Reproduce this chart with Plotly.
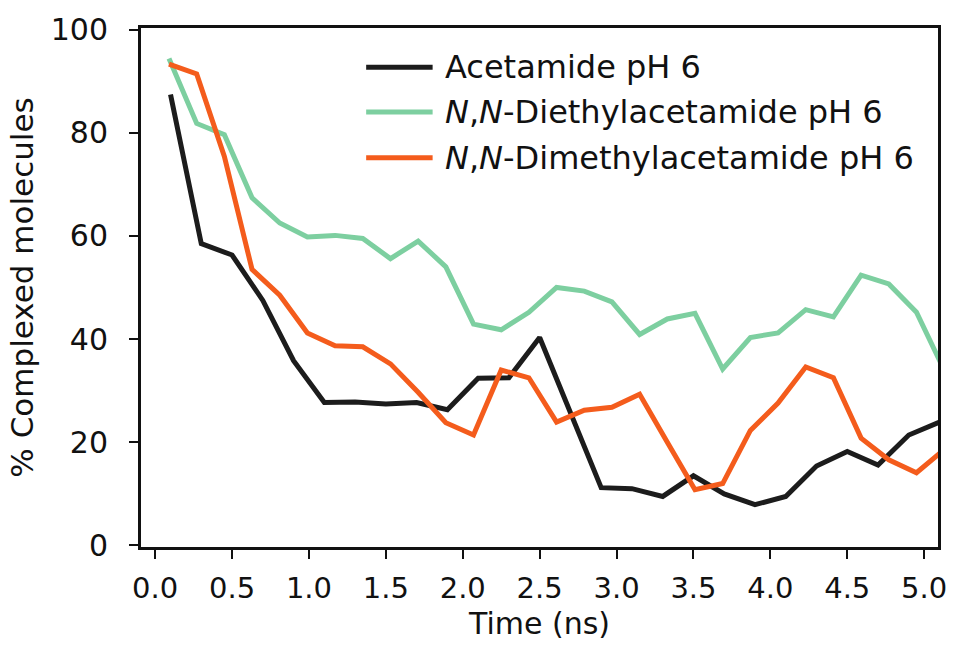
import plotly.graph_objects as go

# ---- data ----
time_acetamide = [0.1, 0.3, 0.5, 0.7, 0.9, 1.1, 1.3, 1.5, 1.7, 1.9, 2.1, 2.3, 2.5,
                  2.7, 2.9, 3.1, 3.3, 3.5, 3.7, 3.9, 4.1, 4.3, 4.5, 4.7, 4.9, 5.1]
acetamide = [87.4, 58.5, 56.3, 47.5, 35.8, 27.7, 27.8, 27.4, 27.7, 26.3, 32.4, 32.5, 40.3,
             25.5, 11.2, 11.0, 9.5, 13.5, 10.0, 7.9, 9.5, 15.4, 18.2, 15.6, 21.4, 23.9]

time_nn = [0.09, 0.27, 0.45, 0.63, 0.81, 0.99, 1.17, 1.35, 1.53, 1.71, 1.89, 2.07, 2.25,
           2.43, 2.61, 2.79, 2.97, 3.15, 3.33, 3.51, 3.69, 3.87, 4.05, 4.23, 4.41, 4.59,
           4.77, 4.95, 5.13]
diethyl = [94.4, 81.8, 79.6, 67.4, 62.5, 59.8, 60.1, 59.5, 55.6, 59.0, 54.0, 42.9, 41.8,
           45.2, 50.0, 49.3, 47.2, 40.9, 43.9, 45.0, 34.2, 40.3, 41.2, 45.7, 44.3, 52.4,
           50.7, 45.2, 34.0]
dimethyl = [93.3, 91.4, 75.4, 53.5, 48.5, 41.2, 38.7, 38.5, 35.2, 29.7, 23.8, 21.4, 34.0,
            32.5, 23.9, 26.2, 26.8, 29.3, 20.0, 10.8, 12.0, 22.3, 27.6, 34.6, 32.5, 20.8,
            16.6, 14.1, 18.6]

series_names = ["Acetamide pH 6",
                "<i>N</i>,<i>N</i>-Diethylacetamide pH 6",
                "<i>N</i>,<i>N</i>-Dimethylacetamide pH 6"]
colors = ["#1c1c1c", "#7dcfa0", "#f45c1c"]

x_ticks = [0.0, 0.5, 1.0, 1.5, 2.0, 2.5, 3.0, 3.5, 4.0, 4.5, 5.0]
x_ticklabels = ["0.0", "0.5", "1.0", "1.5", "2.0", "2.5", "3.0", "3.5", "4.0", "4.5", "5.0"]
y_ticks = [0, 20, 40, 60, 80, 100]

FONT = "DejaVu Sans"
INK = "#111111"

fig = go.Figure()
for xs, ys, nm, c in [(time_acetamide, acetamide, series_names[0], colors[0]),
                      (time_nn, diethyl, series_names[1], colors[1]),
                      (time_nn, dimethyl, series_names[2], colors[2])]:
    fig.add_trace(go.Scatter(x=xs, y=ys, mode="lines", name=nm,
                             line=dict(color=c, width=5), showlegend=False))

# layout geometry
W, H = 959, 656
L, R, T, B = 141, 14.5, 25.5, 109
pw, ph = W - L - R, H - T - B
def px(xp):
    return (xp - L) / pw
def py(yp):
    return (H - B - yp) / ph

# manual legend (long line samples)
legend_rows = [65, 110, 156]
for nm, c, yr in zip(series_names, colors, legend_rows):
    fig.add_shape(type="line", xref="paper", yref="paper",
                  x0=px(368), x1=px(435), y0=py(yr), y1=py(yr),
                  line=dict(color=c, width=5))
    fig.add_annotation(xref="paper", yref="paper", x=px(445), y=py(yr),
                       text=nm, showarrow=False, xanchor="left", yanchor="middle",
                       font=dict(family=FONT, size=32, color=INK))

fig.update_layout(
    width=W, height=H,
    margin=dict(l=L, r=R, t=T, b=B, pad=0),
    paper_bgcolor="white", plot_bgcolor="white",
    font=dict(family=FONT, size=29, color=INK),
    xaxis=dict(range=[-0.092, 5.09], tickvals=x_ticks, ticktext=x_ticklabels,
               ticks="outside", ticklen=9, tickwidth=2, tickcolor=INK,
               showline=True, linecolor=INK, linewidth=3, mirror=True,
               showgrid=False, zeroline=False, ticklabelstandoff=4,
               tickfont=dict(family=FONT, size=29, color=INK),
               title=dict(text="Time (ns)", font=dict(family=FONT, size=30, color=INK), standoff=10)),
    yaxis=dict(range=[-0.3, 100.3], tickvals=y_ticks,
               ticks="outside", ticklen=9, tickwidth=2, tickcolor=INK,
               showline=True, linecolor=INK, linewidth=3, mirror=True,
               showgrid=False, zeroline=False, ticklabelstandoff=15,
               tickfont=dict(family=FONT, size=30, color=INK),
               title=dict(text="% Complexed molecules", font=dict(family=FONT, size=31, color=INK), standoff=8)),
)

fig.write_html("out.html")
